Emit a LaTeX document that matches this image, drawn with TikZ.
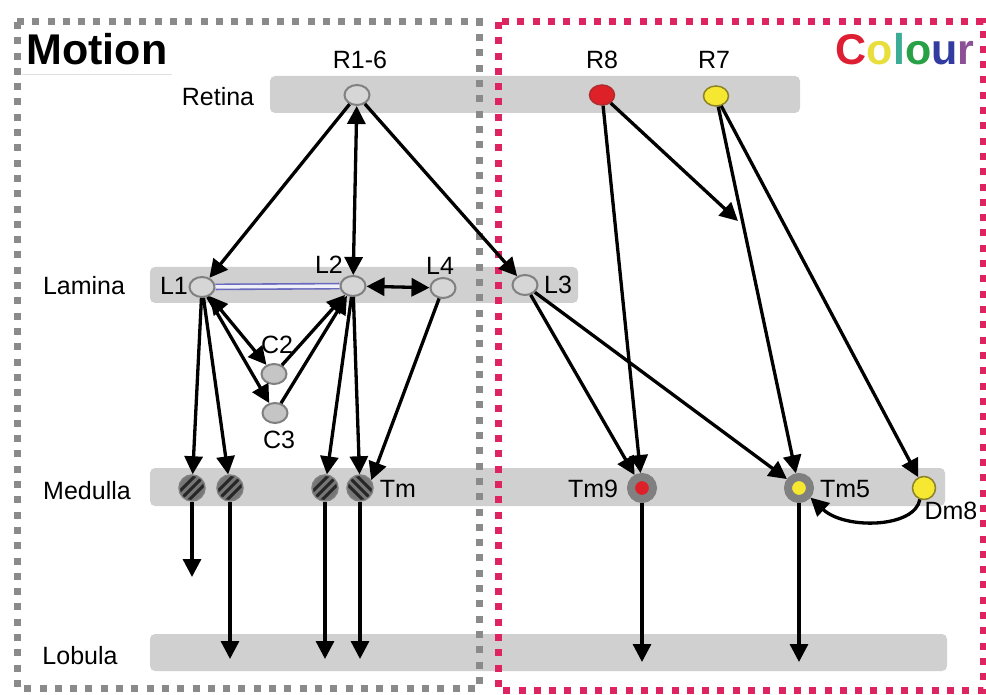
\documentclass[tikz,border=0pt]{standalone}
\usepackage{fontspec}
\setmainfont{Liberation Sans}
\usetikzlibrary{arrows.meta,shapes.geometric}

\definecolor{bandgray}{RGB}{208,208,208}
\definecolor{cellfill}{RGB}{214,214,214}
\definecolor{cellrim}{RGB}{128,128,128}
\definecolor{motiongray}{RGB}{138,138,138}
\definecolor{colourpink}{RGB}{222,36,96}
\definecolor{tmring}{RGB}{128,128,128}
\definecolor{rred}{RGB}{222,32,40}
\definecolor{rredrim}{RGB}{175,45,45}
\definecolor{ryellow}{RGB}{246,232,48}
\definecolor{ryellowrim}{RGB}{140,130,40}
\definecolor{gapline}{RGB}{105,105,190}
\definecolor{hatchfill}{RGB}{118,118,118}
\definecolor{cC}{RGB}{222,30,50}
\definecolor{cOa}{RGB}{232,222,60}
\definecolor{cL}{RGB}{60,172,150}
\definecolor{cOb}{RGB}{40,160,70}
\definecolor{cU}{RGB}{50,60,160}
\definecolor{cR}{RGB}{140,80,150}

\tikzset{
  band/.style={fill=bandgray, rounded corners=5pt},
  lbl/.style={font=\fontsize{25}{25}\selectfont, inner sep=0pt},
  title/.style={font=\fontsize{43}{43}\selectfont\bfseries, inner sep=0pt},
  cell/.style={ellipse, draw=cellrim, fill=cellfill, line width=2pt,
    minimum width=25pt, minimum height=20pt, inner sep=0pt},
  hatchcell/.style={circle, draw=cellrim, fill=hatchfill, line width=1.5pt,
    minimum size=26pt, inner sep=0pt},
  hatchup/.style={hatchcell, path picture={
    \foreach \a in {-24,-15,-6}
      \draw[line width=3pt, black!85]
        ([shift={(\a pt,-15pt)}]path picture bounding box.center) -- ++(30pt,30pt);}},
  hatchdown/.style={hatchcell, path picture={
    \foreach \a in {-24,-15,-6}
      \draw[line width=3pt, black!85]
        ([shift={(\a pt,15pt)}]path picture bounding box.center) -- ++(30pt,-30pt);}},
  ring/.style={circle, draw=tmring, line width=8pt, minimum size=22pt, inner sep=0pt},
  tip/.tip={Triangle[length=18pt,width=18pt]},
  conn/.style={line width=3.3pt, -tip},
  conn2/.style={line width=3.3pt, tip-tip},
  frame/.style={line width=7pt, dash pattern=on 7pt off 8.3pt},
}

\begin{document}
\begin{tikzpicture}[x=1pt,y=-1pt]
\useasboundingbox (0,0) rectangle (986,695);

% layer bands
\fill[band] (270,76) rectangle (800,113);
\fill[band] (150,267) rectangle (578,303);
\fill[band] (150,468) rectangle (945,506);
\fill[band] (150,634) rectangle (947,671);

% dotted frames of the two pathways
\draw[frame, motiongray] (17,22) rectangle (479,688);
\draw[frame, colourpink] (498,22) rectangle (983,690);

% titles
\draw[black!12, line width=1pt] (22,75) -- (172,75);
\node[title] (motion) at (97,49) {Motion};
\node[title] (colour) at (905,49) {{\color{cC}C}{\color{cOa}o}{\color{cL}l}{\color{cOb}o}{\color{cU}u}{\color{cR}r}};

% layer names
\node[lbl] (retina) at (218,97) {Retina};
\node[lbl] (lamina) at (84,286) {Lamina};
\node[lbl] (medulla) at (87,491) {Medulla};
\node[lbl] (lobula) at (80,656) {Lobula};

% retina
\node[cell] (r16) at (357,95) {};
\node[cell, fill=rred, draw=rredrim, line width=1.5pt] (r8) at (602,95) {};
\node[cell, fill=ryellow, draw=ryellowrim, line width=1.5pt] (r7) at (716,96) {};
\node[lbl] (r16t) at (360,60) {R1-6};
\node[lbl] (r8t) at (602,60) {R8};
\node[lbl] (r7t) at (714,60) {R7};

% lamina
\node[cell] (l1) at (202,287) {};
\node[cell] (l2) at (353,286) {};
\node[cell] (l4) at (443,288) {};
\node[cell] (l3) at (525,285) {};
\node[cell, fill=cellfill!92!black] (c2) at (274,374) {};
\node[cell, fill=cellfill!92!black] (c3) at (275,413) {};
\node[lbl] (l1t) at (174,286) {L1};
\node[lbl] (l2t) at (329,265) {L2};
\node[lbl] (l4t) at (440,266) {L4};
\node[lbl] (l3t) at (558,285) {L3};
\node[lbl] (c2t) at (277,345) {C2};
\node[lbl] (c3t) at (279,440) {C3};

% medulla
\node[hatchup] (m1) at (192,488) {};
\node[hatchup] (m2) at (230,488) {};
\node[hatchup] (m3) at (325,488) {};
\node[hatchdown] (m4) at (360,488) {};
\node[ring, fill=rred] (tm9) at (642,488) {};
\node[ring, fill=ryellow] (tm5) at (799,488) {};
\node[circle, fill=ryellow, draw=ryellowrim, line width=1.5pt, minimum size=23pt, inner sep=0pt] (dm8) at (924,488) {};
\node[lbl] (tmt) at (398,489) {Tm};
\node[lbl] (tm9t) at (593,489) {Tm9};
\node[lbl] (tm5t) at (845,489) {Tm5};
\node[lbl] (dm8t) at (951,511) {Dm8};

% free ends
\coordinate (r8end) at (738,221);
\coordinate (m1end) at (192,577);
\coordinate (m2end) at (230,659);
\coordinate (m3end) at (325,659);
\coordinate (m4end) at (360,659);
\coordinate (tm9end) at (642,662);
\coordinate (tm5end) at (799,662);

% gap junction L1 -- L2
\draw[gapline, line width=1.6pt, double=white!90!gapline, double distance=3.5pt] (l1) -- (l2);

% retina to lamina / medulla
\draw[conn] (r16) -- (l1);
\draw[conn2] (r16) -- (l2);
\draw[conn] (r16) -- (l3);
\draw[conn] (r8) -- (tm9);
\draw[conn] (r8) -- (r8end);
\draw[conn] (r7) -- (tm5);
\draw[conn] (r7) -- (dm8);

% lamina circuitry
\draw[conn2] (l2) -- (l4);
\draw[conn2] (l1) -- (c2);
\draw[conn] (l1) -- (c3);
\draw[conn] (c2) -- (l2);
\draw[conn] (c3) -- (l2);

% lamina to medulla
\draw[conn] (l1) -- (m1);
\draw[conn] (l1) -- (m2);
\draw[conn] (l2) -- (m3);
\draw[conn] (l2) -- (m4);
\draw[conn] (l4) -- (m4.35);
\draw[conn] (l3) -- (tm9);
\draw[conn] (l3) -- (tm5);

% medulla to lobula
\draw[conn] (m1) -- (m1end);
\draw[conn] (m2) -- (m2end);
\draw[conn] (m3) -- (m3end);
\draw[conn] (m4) -- (m4end);
\draw[conn] (tm9) -- (tm9end);
\draw[conn] (tm5) -- (tm5end);
\draw[conn] (dm8.250) .. controls (915,528) and (845,530) .. (tm5.-40);
\end{tikzpicture}
\end{document}
